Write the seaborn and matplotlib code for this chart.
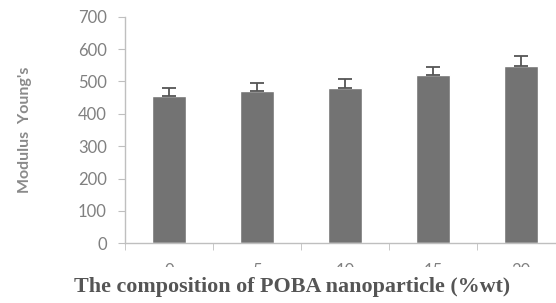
import numpy as np
import pandas as pd
import seaborn as sns
import matplotlib.pyplot as plt
from matplotlib.patches import Rectangle

# values
composition = ['0', '5', '10', '15', '20']
modulus = [455, 471, 481, 520, 549]
modulus_err = [24, 25, 26, 26, 28]

data = pd.DataFrame({'composition': composition, 'modulus': modulus})

sns.set_style('white')
plt.rcParams['font.family'] = ['Lato', 'DejaVu Sans']

fig = plt.figure(figsize=(5.56, 3.03), dpi=100)
ax = fig.add_axes([0.2248, 0.197, 0.7912, 0.748])

sns.barplot(data=data, x='composition', y='modulus', color='#737373',
            saturation=1, width=0.39, errorbar=None, ax=ax)
ax.errorbar(np.arange(len(composition)), modulus, yerr=[np.zeros(len(modulus)), modulus_err],
            fmt='none', ecolor='#555555', elinewidth=1.3, capsize=5, capthick=1.3)

ax.set_xlim(-0.5, 4.5)
ax.set_ylim(0, 700)
ax.set_yticks(range(0, 701, 100))

grey = '#bfbfbf'
for s in ['top', 'right']:
    ax.spines[s].set_visible(False)
for s in ['left', 'bottom']:
    ax.spines[s].set_color(grey)
    ax.spines[s].set_linewidth(1)

ax.set_xticks(np.arange(-0.5, 5.0, 1.0), minor=True)
ax.tick_params(axis='x', which='minor', length=5, color=grey, direction='out', bottom=True)
ax.tick_params(axis='x', which='major', length=0, pad=14, labelsize=12, labelcolor='#808080')
ax.tick_params(axis='y', length=5, color=grey, direction='out', left=True, pad=8,
               labelsize=12, labelcolor='#808080')

ax.set_ylabel("Modulus  Young's", fontsize=11.5, fontweight='bold', color='#8a8a8a', labelpad=33)
ax.set_xlabel('')

# x tick labels are partly hidden behind a white strip in the original
fig.add_artist(Rectangle((0, 0), 1, 0.119, transform=fig.transFigure,
                         facecolor='white', edgecolor='none', zorder=5))
fig.text(0.525, 0.02, 'The composition of POBA nanoparticle (%wt)',
         ha='center', va='bottom', fontsize=15.8, fontweight='bold', color='#555555',
         family=['Liberation Serif', 'DejaVu Serif'], zorder=6)

fig.savefig('out.png', dpi=100)
